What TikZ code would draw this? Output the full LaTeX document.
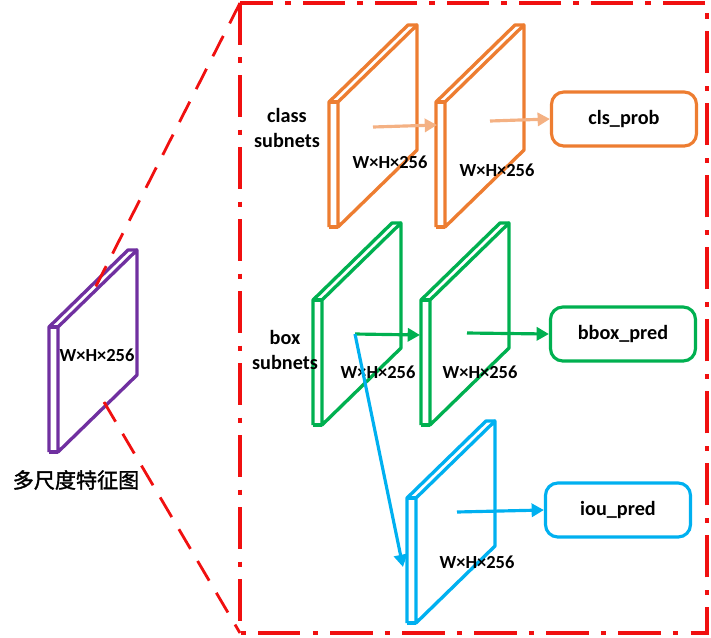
\documentclass[tikz,border=0pt]{standalone}
\usepackage{fontspec}
\setmainfont{Carlito}
\newfontfamily\cjk[FakeBold=1.6]{Noto Sans CJK SC}
\usetikzlibrary{arrows.meta}
\definecolor{clsorange}{HTML}{ED7D31}
\definecolor{clspeach}{HTML}{F4B183}
\definecolor{boxgreen}{HTML}{00B050}
\definecolor{ioublue}{HTML}{00B0F0}
\definecolor{fpnpurple}{HTML}{7030A0}
\definecolor{zoomred}{HTML}{F01010}
% feature plate: #1 colour, #2 x of front face, #3 top of front face
\newcommand{\featplate}[3]{%
  \draw[plateline,#1] (#2-9,#3+125) -- (#2-9,#3) -- (#2+70,#3-77) -- (#2+79,#3-77);
  \draw[plateline,#1] (#2,#3) -- (#2+79,#3-77) -- (#2+79,#3+48) -- (#2,#3+125) -- cycle;
  \draw[plateline,#1] (#2-9,#3) -- (#2,#3) (#2-9,#3+125) -- (#2,#3+125);
}
\tikzset{
  plateline/.style={line width=1.9pt, line join=round},
  dimtext/.style={font=\bfseries\fontsize{10.5}{12}\selectfont, inner sep=0pt},
  subtext/.style={font=\bfseries\fontsize{11.5}{14}\selectfont, align=center, inner sep=0pt},
  outbox/.style={draw, line width=1.8pt, rounded corners=7pt, minimum width=2.9cm,
    minimum height=1.08cm, font=\bfseries\fontsize{11.5}{13}\selectfont},
  flow/.style={line width=1.8pt, -{Triangle[length=7pt,width=7.5pt]}},
  zoomframe/.style={zoomred, line width=2.2pt, dash pattern=on 24pt off 7pt on 3pt off 7pt},
  zoomline/.style={zoomred, line width=1.6pt, dash pattern=on 13pt off 8pt},
}
\begin{document}
\begin{tikzpicture}[x=0.02cm, y=-0.02cm, line cap=butt]
  \useasboundingbox (0,0) rectangle (711,637);
  % zoom frame
  \coordinate (fnw) at (240,3);
  \coordinate (fse) at (707,633);
  \coordinate (fsw) at (240,633);
  \draw[zoomframe] (fnw) rectangle (fse);
  % multi-scale feature
  \featplate{fpnpurple}{58}{327}
  \node[dimtext] (fpndim) at (97,355) {W×H×256};
  \node[font=\cjk\fontsize{12}{14}\selectfont, inner sep=0pt] (fpnname) at (76,480) {多尺度特征图};
  \coordinate (ztop) at (94,290);
  \coordinate (zbot) at (104,402);
  \draw[zoomline] (fnw) -- (ztop);
  \draw[zoomline] (zbot) -- (fsw);
  % class subnets
  \featplate{clsorange}{338}{102}
  \featplate{clsorange}{445}{102}
  \node[subtext] (clslabel) at (287,128) {class\\subnets};
  \node[dimtext] (clsdima) at (390,162) {W×H×256};
  \node[dimtext] (clsdimb) at (497,170) {W×H×256};
  \node[outbox, draw=clsorange] (clsprob) at (624,119) {cls\_prob};
  \coordinate (clsa) at (373,127);
  \coordinate (clsb) at (437,125);
  \coordinate (clsc) at (490,121);
  \draw[flow, clspeach] (clsa) -- (clsb);
  \draw[flow, clspeach] (clsc) -- (clsprob.west);
  % box subnets
  \featplate{boxgreen}{322}{300}
  \featplate{boxgreen}{430}{300}
  \node[subtext] (boxlabel) at (285,350) {box\\subnets};
  \node[dimtext] (boxdima) at (378,372) {W×H×256};
  \node[dimtext] (boxdimb) at (480,372) {W×H×256};
  \node[outbox, draw=boxgreen] (bboxpred) at (623,334) {bbox\_pred};
  \coordinate (boxa) at (355,334);
  \coordinate (boxb) at (420,335);
  \coordinate (boxc) at (467,333);
  \draw[flow, boxgreen] (boxa) -- (boxb);
  \draw[flow, boxgreen] (boxc) -- (bboxpred.west);
  % iou branch
  \featplate{ioublue}{416}{498}
  \node[dimtext] (ioudim) at (477,562) {W×H×256};
  \node[outbox, draw=ioublue] (ioupred) at (618,510) {iou\_pred};
  \coordinate (ioua) at (403,567);
  \coordinate (ioub) at (457,512);
  \draw[flow, ioublue] (boxa) -- (ioua);
  \draw[flow, ioublue] (ioub) -- (ioupred.west);
\end{tikzpicture}
\end{document}
